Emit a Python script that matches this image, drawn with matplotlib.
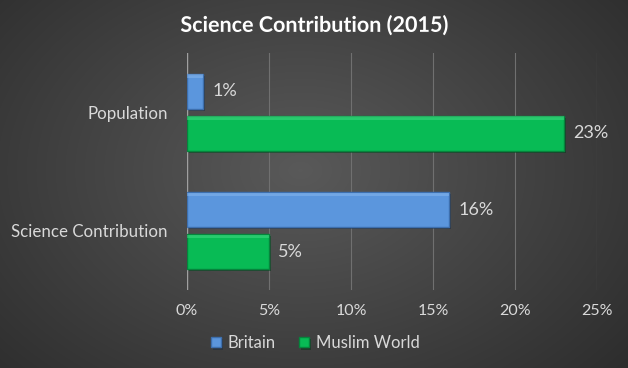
import numpy as np
import matplotlib
matplotlib.use('Agg')
import matplotlib.pyplot as plt
import matplotlib.patheffects as pe

plt.rcParams['font.family'] = ['Lato', 'DejaVu Sans']

# ===== data =====
categories = ['Population', 'Science Contribution']
series_names = ['Britain', 'Muslim World']
britain = [1, 16]
muslim_world = [23, 5]
x_ticks = [0, 5, 10, 15, 20, 25]

# ===== style =====
COLORS = ['#5b96dd', '#08bb55']
EDGE_DARK = ['#3d6fae', '#05853c']
EDGE_LIGHT = ['#8fbdf0', '#4fe08c']
TEXT_COLOR = '#d9d9d9'
GRID_COLOR = '#707070'

fig = plt.figure(figsize=(6.28, 3.68), dpi=100)

# radial gradient background
bg = fig.add_axes([0, 0, 1, 1], zorder=-10)
yy, xx = np.mgrid[0:368, 0:628]
cx, cy = 300, 170
r = np.sqrt(((xx - cx) / 420.0) ** 2 + ((yy - cy) / 300.0) ** 2)
shade = np.clip(0.35 - 0.17 * r, 0.15, 0.35)
bg.imshow(np.dstack([shade, shade, shade]), aspect='auto', extent=[0, 1, 0, 1])
bg.axis('off')

# plot area in pixels: x 187..597, y 53..290 (top-origin)
W, H = 628, 368
ax = fig.add_axes([187 / W, 1 - 290 / H, (597 - 187) / W, (290 - 53) / H])
ax.set_facecolor('none')

y = np.arange(len(categories))
off = 0.177
bh = 0.295
for i, (vals, name) in enumerate(zip([britain, muslim_world], series_names)):
    pos = y - off if i == 0 else y + off
    ax.barh(pos, vals, height=bh, color=COLORS[i], edgecolor=EDGE_DARK[i],
            linewidth=1.0, label=name, zorder=3,
            path_effects=[pe.SimplePatchShadow(offset=(1.5, -1.5), alpha=0.5), pe.Normal()])
    # light top bevel
    ax.barh(pos - bh / 2 + 0.018, vals, height=0.03, color=EDGE_LIGHT[i],
            linewidth=0, zorder=4, alpha=0.45)
    for p, v in zip(pos, vals):
        ax.text(v + 0.55, p, f'{v}%', va='center', ha='left',
                color=TEXT_COLOR, fontsize=13, zorder=5)

ax.set_ylim(1.5, -0.5)
ax.set_xlim(0, 25)
ax.set_xticks(x_ticks)
ax.set_xticklabels([f'{t}%' for t in x_ticks], color=TEXT_COLOR, fontsize=11.5)
ax.set_yticks(y)
ax.set_yticklabels(categories, color=TEXT_COLOR, fontsize=12.2)
ax.tick_params(length=0, pad=14)
ax.tick_params(axis='x', pad=10)
ax.grid(axis='x', color=GRID_COLOR, linewidth=0.8, zorder=0)
for s in ax.spines.values():
    s.set_visible(False)
ax.axvline(0, color='#a0a0a0', linewidth=1.0, zorder=2)

fig.text(0.5, 1 - 25 / H, 'Science Contribution (2015)', ha='center', va='center',
         color='white', fontsize=15.5, fontweight='bold',
         path_effects=[pe.SimplePatchShadow(offset=(1, -1)), pe.Normal()])

leg = fig.legend(loc='center', bbox_to_anchor=(315 / W, 1 - 343 / H), ncol=2,
                 frameon=False, fontsize=12, handlelength=0.6, handleheight=0.6,
                 handletextpad=0.4, columnspacing=1.4)
for t in leg.get_texts():
    t.set_color(TEXT_COLOR)

fig.savefig('out.png', dpi=100)
